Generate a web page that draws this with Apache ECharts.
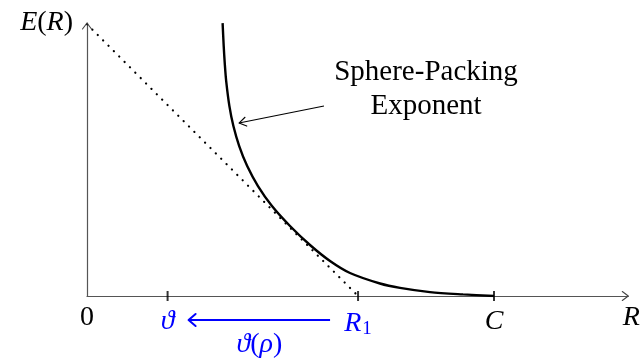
<!DOCTYPE html>
<html>
<head>
<meta charset="utf-8">
<script src="https://cdn.jsdelivr.net/npm/echarts@6/dist/echarts.min.js"></script>
<style>
  html, body { margin: 0; padding: 0; background: #fff; }
  #chart { width: 644px; height: 359px; }
</style>
</head>
<body>
<div id="chart"></div>
<script>
// Sphere-packing exponent E(R) against the rate R (rates scaled so that C = 1)
const rates = [0.3332, 0.3359, 0.3386, 0.3420, 0.3499, 0.3597, 0.3740, 0.3936, 0.4201, 0.4545,
               0.4988, 0.5479, 0.5971, 0.6462, 0.7199, 0.7690, 0.8428, 0.9238, 1.0];
const exponents = [0.6708, 0.6143, 0.5700, 0.5283, 0.4668, 0.4177, 0.3686, 0.3194, 0.2703, 0.2211,
                   0.1720, 0.1253, 0.0860, 0.0565, 0.0307, 0.0199, 0.0096, 0.0039, 0];

// Straight-line bound from E(0) down to R1
const boundRates = [0, 0.666];
const boundExponents = [0.668, 0];

// Marked rates on the R axis
const tickValues = [0, 0.198, 0.666, 1];
const tickLabels = ['{n|0}', '{b|ϑ}', '{b|R}{bs|1}', '{i|C}'];
const tickMarked = [0.198, 0.666, 1];

// The mapping ϑ(ρ) takes R1 to ϑ
const mapFrom = 0.666;
const mapTo = 0.198;

const SERIF = '"Liberation Serif", "DejaVu Serif", serif';
const BLUE = '#0000ff';
const FS = 28;
const mathText = (color) => ({ fontFamily: SERIF, fontStyle: 'italic', fontSize: FS, color: color });
const romanText = (color) => ({ fontFamily: SERIF, fontSize: FS, color: color });

const chart = echarts.init(document.getElementById('chart'), null, { renderer: 'canvas' });

chart.setOption({
  animation: false,
  backgroundColor: '#fff',
  grid: { left: 87, right: 15.7, top: 23, bottom: 63 },
  xAxis: {
    type: 'value', min: 0, max: 1.33,
    name: 'R', nameLocation: 'end', nameGap: 3,
    nameTextStyle: Object.assign(mathText('#000'), { align: 'center', verticalAlign: 'top', padding: [8, 0, 0, 0] }),
    axisLine: { onZero: false, lineStyle: { color: '#555', width: 1.2 } },
    axisTick: { show: false },
    splitLine: { show: false },
    axisLabel: {
      customValues: tickValues,
      margin: 12,
      formatter: (v) => tickLabels[tickValues.indexOf(v)] || '',
      rich: {
        n: Object.assign(romanText('#000'), { lineHeight: 20 }),
        i: mathText('#000'),
        b: mathText(BLUE),
        bs: { fontFamily: SERIF, fontSize: 19, color: BLUE, verticalAlign: 'bottom', padding: [12, 0, 0, 1] }
      }
    }
  },
  yAxis: {
    type: 'value', min: 0, max: 0.671,
    name: '{i|E}{r|(}{i|R}{r|)}', nameLocation: 'end', nameGap: 0,
    nameTextStyle: {
      align: 'right', verticalAlign: 'middle', padding: [0, 14, 0, 0],
      rich: { i: mathText('#000'), r: romanText('#000') }
    },
    axisLine: { show: true, lineStyle: { color: '#555', width: 1.2 } },
    axisTick: { show: false },
    axisLabel: { show: false },
    splitLine: { show: false }
  },
  series: [
    {
      name: 'bound', type: 'line', silent: true, showSymbol: false,
      data: boundRates.map((r, i) => [r, boundExponents[i]]),
      lineStyle: { color: '#000', width: 2.2, type: [0.1, 7.5], cap: 'round' },
      z: 3
    },
    {
      name: 'sphere packing', type: 'line', silent: true, showSymbol: false,
      smooth: 0.3,
      data: rates.map((r, i) => [r, exponents[i]]),
      lineStyle: { color: '#000', width: 2.4 },
      z: 4
    },
    {
      name: 'ticks', type: 'scatter', silent: true, clip: false,
      data: tickMarked.map((v) => [v, 0]),
      symbol: 'rect', symbolSize: [2, 10],
      itemStyle: { color: '#000' },
      z: 5
    }
  ]
});

// Decorations placed through the axes' own scales
const toPx = (x, y) => chart.convertToPixel({ gridIndex: 0 }, [x, y]);

function chevron(tip, dirX, dirY, len, half, color, width) {
  const nx = -dirY, ny = dirX;
  const bx = tip[0] - dirX * len, by = tip[1] - dirY * len;
  return {
    type: 'polyline', silent: true, z: 10,
    shape: { points: [[bx + nx * half, by + ny * half], tip, [bx - nx * half, by - ny * half]] },
    style: { stroke: color, lineWidth: width, fill: null, lineCap: 'round', lineJoin: 'round' }
  };
}

const xEnd = toPx(1.33, 0);
const yEnd = toPx(0, 0.671);

// annotation arrow pointing at the curve
const annTail = toPx(0.5823, 0.4668);
const annTip = toPx(0.3735, 0.4251);
const adx = annTip[0] - annTail[0], ady = annTip[1] - annTail[1];
const alen = Math.hypot(adx, ady);

// ϑ(ρ) arrow under the axis
const fromPx = toPx(mapFrom, 0);
const toPxPt = toPx(mapTo, 0);
const arrowY = fromPx[1] + 24;
const tail = [fromPx[0] - 28, arrowY];
const head = [toPxPt[0] + 21, arrowY];

chart.setOption({
  graphic: [
    chevron(xEnd, 1, 0, 6, 4.5, '#444', 1.1),
    chevron(yEnd, 0, -1, 6, 4.5, '#444', 1.1),
    {
      type: 'line', silent: true, z: 10,
      shape: { x1: annTail[0], y1: annTail[1], x2: annTip[0], y2: annTip[1] },
      style: { stroke: '#000', lineWidth: 1.1 }
    },
    chevron(annTip, adx / alen, ady / alen, 7, 4.5, '#000', 1.1),
    {
      type: 'text', silent: true, z: 10,
      x: 426, y: 89,
      style: {
        text: 'Sphere-Packing\nExponent', fontFamily: SERIF, fontSize: 29, lineHeight: 34,
        fill: '#000', align: 'center', verticalAlign: 'middle'
      }
    },
    {
      type: 'line', silent: true, z: 10,
      shape: { x1: tail[0], y1: tail[1], x2: head[0], y2: head[1] },
      style: { stroke: BLUE, lineWidth: 2.2 }
    },
    chevron(head, -1, 0, 7, 6, BLUE, 2),
    {
      type: 'text', silent: true, z: 10,
      x: (tail[0] + head[0]) / 2, y: arrowY + 25,
      style: {
        text: '{i|ϑ}{r|(}{i|ρ}{r|)}', align: 'center', verticalAlign: 'middle',
        rich: {
          i: { fontFamily: SERIF, fontStyle: 'italic', fontSize: FS, fill: BLUE },
          r: { fontFamily: SERIF, fontSize: FS, fill: BLUE }
        }
      }
    }
  ]
});
</script>
</body>
</html>
